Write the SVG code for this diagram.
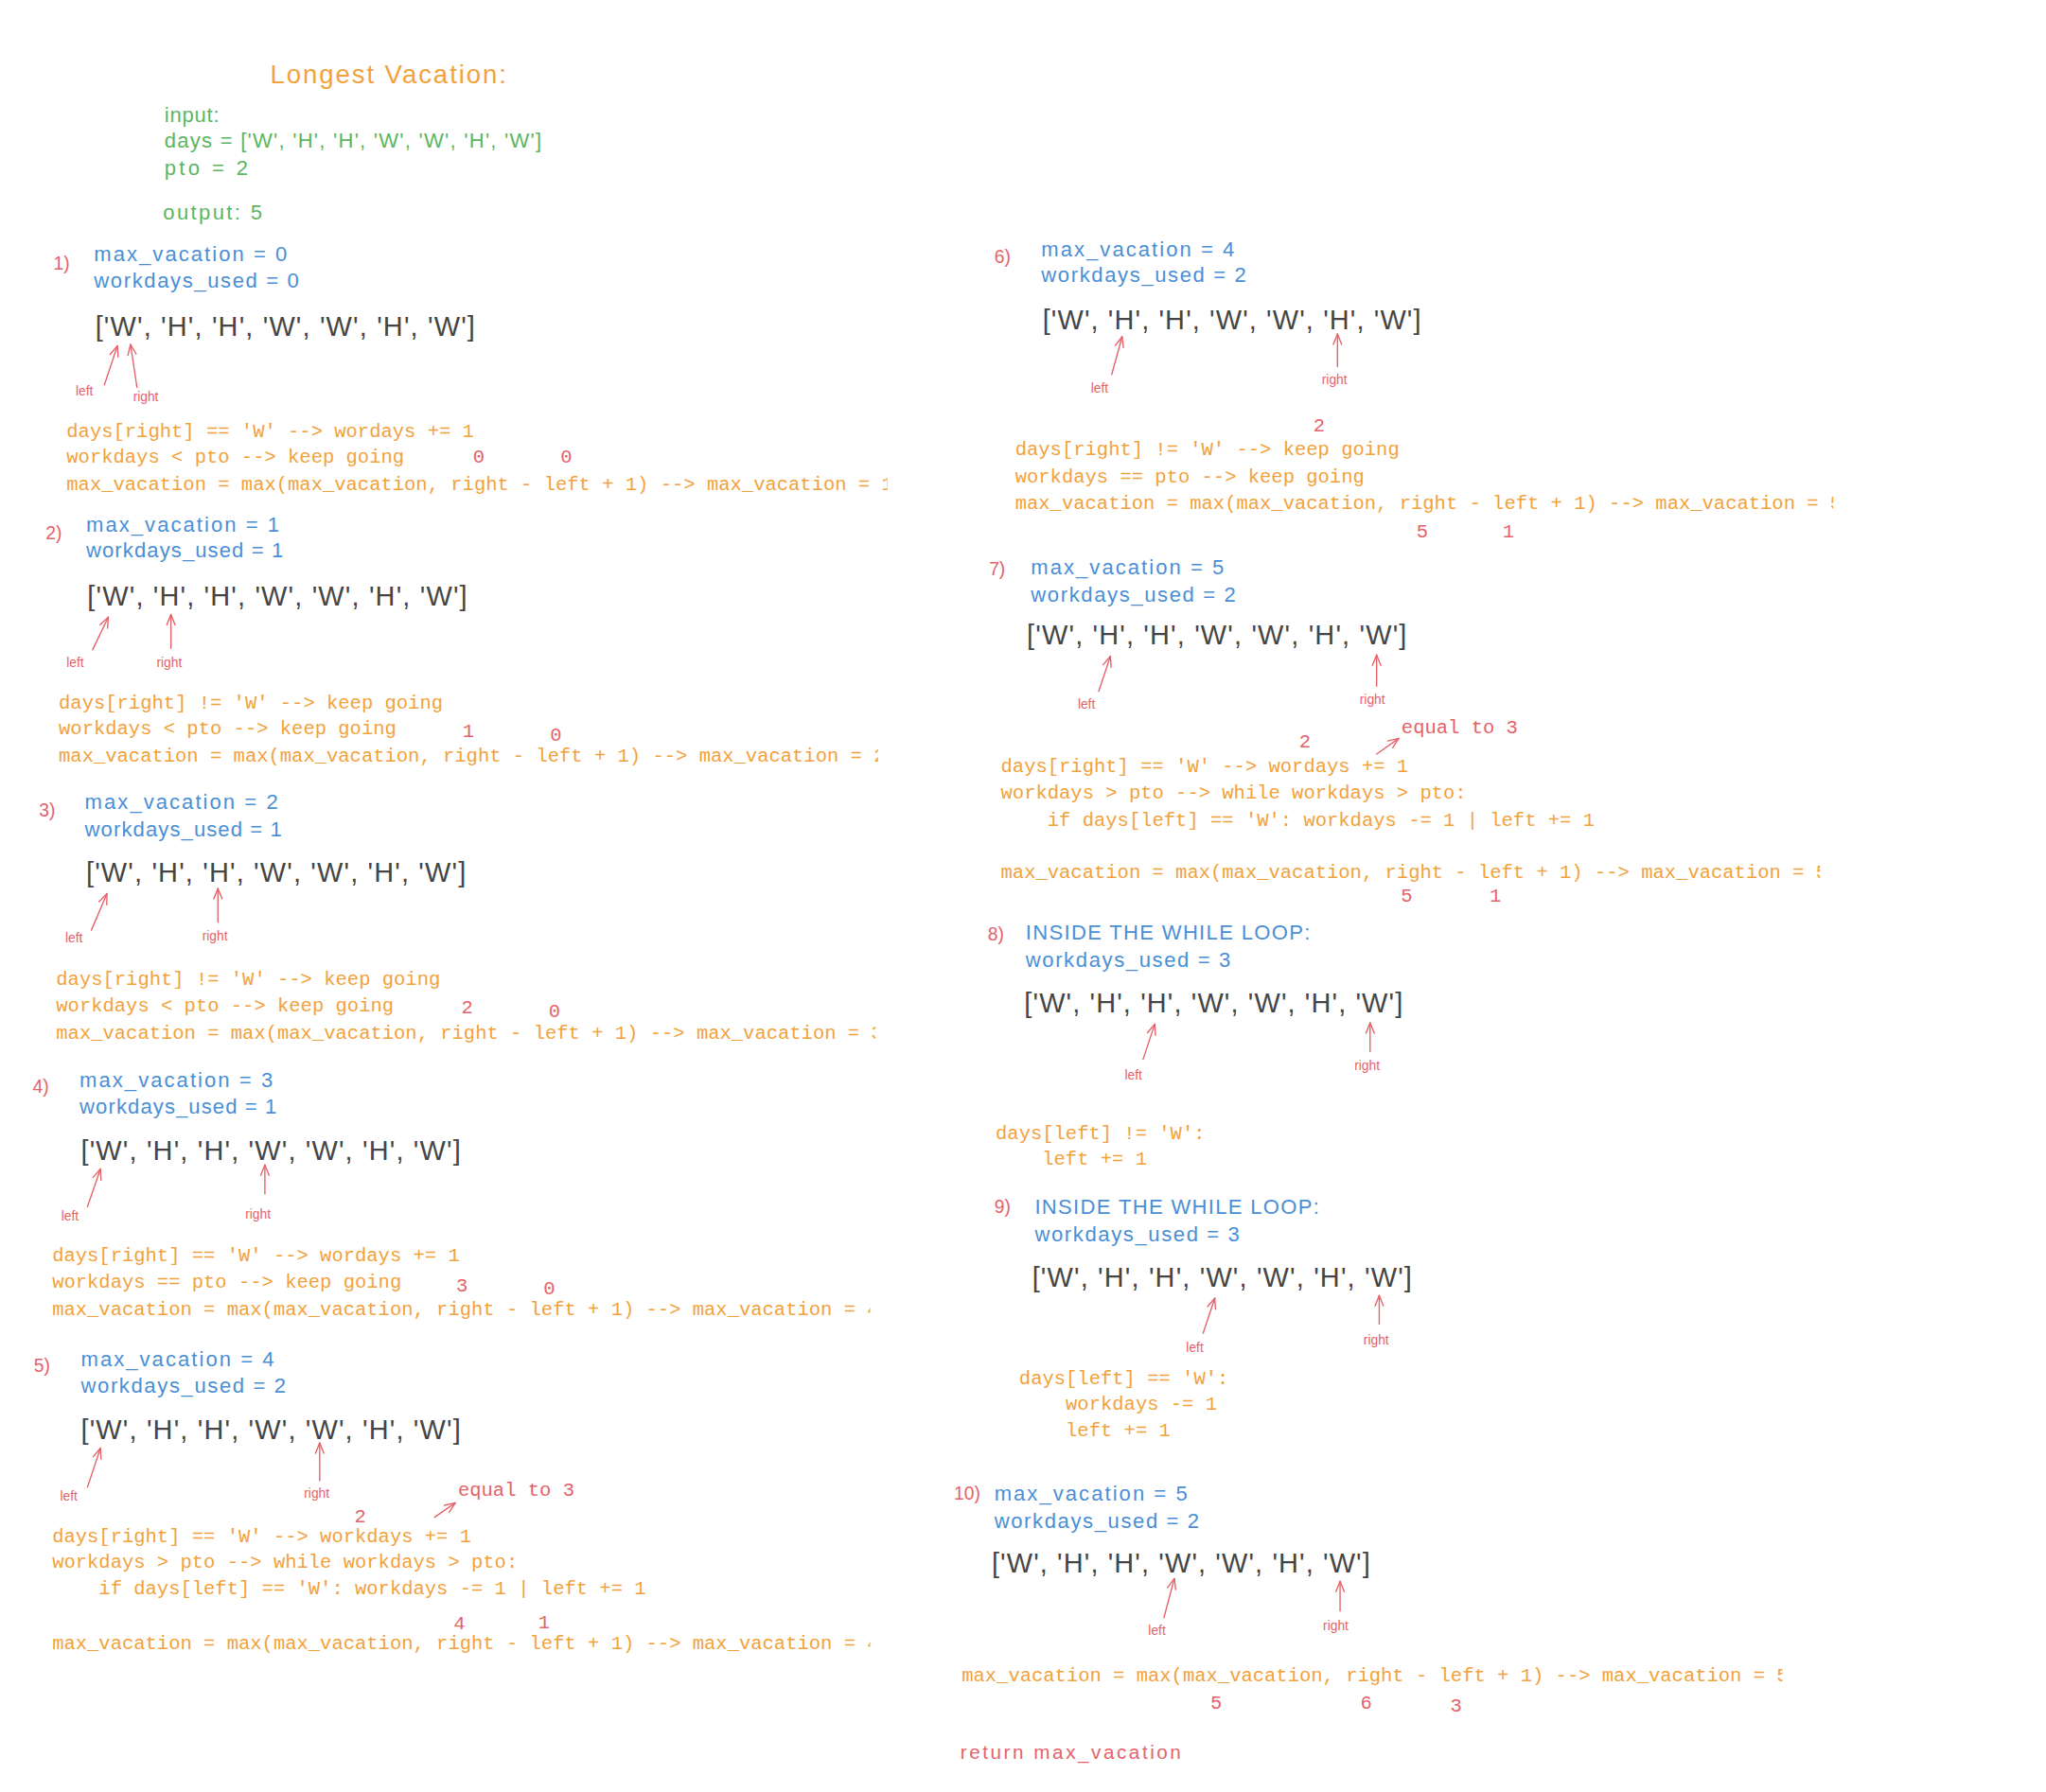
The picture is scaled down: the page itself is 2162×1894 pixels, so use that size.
<svg xmlns="http://www.w3.org/2000/svg" width="2162" height="1894" viewBox="0 0 2162 1894">
  <style>
    text { dominant-baseline: central; white-space: pre; }
    .title { font-family: "Liberation Sans", sans-serif; font-size: 20px; fill: #f2a23c; }
    .green { font-family: "Liberation Sans", sans-serif; font-size: 16px; fill: #5cb660; }
    .var { font-family: "Liberation Sans", sans-serif; font-size: 16px; fill: #4a8fd6; }
    .num { font-family: "Liberation Sans", sans-serif; font-size: 14px; fill: #e5626a; }
    .arr { font-family: "Liberation Sans", sans-serif; font-size: 21px; fill: #454545; }
    .ptr { font-family: "Liberation Sans", sans-serif; font-size: 10px; fill: #e5626a; }
    .code { font-family: "Liberation Mono", monospace; font-size: 14.87px; fill: #f2a23c; }
    .val { font-family: "Liberation Mono", monospace; font-size: 14.87px; fill: #e5626a; text-anchor: middle; }
    .note { font-family: "Liberation Mono", monospace; font-size: 14.87px; fill: #e5626a; }
    .ret { font-family: "Liberation Sans", sans-serif; font-size: 15px; fill: #e5626a; }
    .link { fill: none; stroke: #e5626a; stroke-width: 1; stroke-linecap: round; marker-end: url(#head); }
  </style>
  <defs>
    <marker id="head" markerUnits="userSpaceOnUse" viewBox="-10 -5 12 10" markerWidth="12" markerHeight="10" refX="0" refY="0" orient="auto" overflow="visible">
      <path d="M-8,-3.2 L0,0 L-8,3.2" fill="none" stroke="#e5626a" stroke-width="1" stroke-linecap="round" stroke-linejoin="round"/>
    </marker>
    <!-- text boxes that cut off the trailing result of the long formula lines -->
    <clipPath id="c1" clipPathUnits="userSpaceOnUse"><rect x="0" y="0" width="680" height="1374"/></clipPath>
    <clipPath id="c2" clipPathUnits="userSpaceOnUse"><rect x="0" y="0" width="673" height="1374"/></clipPath>
    <clipPath id="c3" clipPathUnits="userSpaceOnUse"><rect x="0" y="0" width="671" height="1374"/></clipPath>
    <clipPath id="c4" clipPathUnits="userSpaceOnUse"><rect x="0" y="0" width="667" height="1374"/></clipPath>
    <clipPath id="c6" clipPathUnits="userSpaceOnUse"><rect x="0" y="0" width="1405" height="1374"/></clipPath>
    <clipPath id="c7" clipPathUnits="userSpaceOnUse"><rect x="0" y="0" width="1395" height="1374"/></clipPath>
    <clipPath id="c10" clipPathUnits="userSpaceOnUse"><rect x="0" y="0" width="1366" height="1374"/></clipPath>
  </defs>

  <rect width="2162" height="1894" fill="#ffffff"/>

  <g transform="scale(1.37883)">
    <g id="header">
      <text class="title" x="207" y="57" textLength="181">Longest Vacation:</text>
      <text class="green" x="126" y="88" textLength="42">input:</text>
      <text class="green" x="126" y="108" textLength="289">days = ['W', 'H', 'H', 'W', 'W', 'H', 'W']</text>
      <text class="green" x="126" y="129" textLength="64">pto = 2</text>
      <text class="green" x="125" y="163" textLength="76">output: 5</text>
    </g>

    <g id="step1">
      <text class="num" x="41" y="202">1)</text>
      <text class="var" x="72" y="195" textLength="148">max_vacation = 0</text>
      <text class="var" x="72" y="215" textLength="157">workdays_used = 0</text>
      <text class="arr" x="73" y="250" textLength="291">['W', 'H', 'H', 'W', 'W', 'H', 'W']</text>
      <text class="ptr" x="58" y="300">left</text>
      <text class="ptr" x="102" y="304">right</text>
      <text class="code" x="51" y="331">days[right] == 'W' --&gt; wordays += 1</text>
      <text class="code" x="51" y="351">workdays &lt; pto --&gt; keep going</text>
      <text class="code" x="51" y="372" clip-path="url(#c1)">max_vacation = max(max_vacation, right - left + 1) --&gt; max_vacation = 1</text>
      <text class="val" x="367" y="351">0</text>
      <text class="val" x="434" y="351">0</text>
    </g>

    <g id="step2">
      <text class="num" x="35" y="409">2)</text>
      <text class="var" x="66" y="402" textLength="148">max_vacation = 1</text>
      <text class="var" x="66" y="422" textLength="151">workdays_used = 1</text>
      <text class="arr" x="67" y="457" textLength="291">['W', 'H', 'H', 'W', 'W', 'H', 'W']</text>
      <text class="ptr" x="51" y="508">left</text>
      <text class="ptr" x="120" y="508">right</text>
      <text class="code" x="45" y="539">days[right] != 'W' --&gt; keep going</text>
      <text class="code" x="45" y="559">workdays &lt; pto --&gt; keep going</text>
      <text class="code" x="45" y="580" clip-path="url(#c2)">max_vacation = max(max_vacation, right - left + 1) --&gt; max_vacation = 2</text>
      <text class="val" x="359" y="561">1</text>
      <text class="val" x="426" y="564">0</text>
    </g>

    <g id="step3">
      <text class="num" x="30" y="621">3)</text>
      <text class="var" x="65" y="615" textLength="148">max_vacation = 2</text>
      <text class="var" x="65" y="636" textLength="151">workdays_used = 1</text>
      <text class="arr" x="66" y="669" textLength="291">['W', 'H', 'H', 'W', 'W', 'H', 'W']</text>
      <text class="ptr" x="50" y="719">left</text>
      <text class="ptr" x="155" y="718">right</text>
      <text class="code" x="43" y="751">days[right] != 'W' --&gt; keep going</text>
      <text class="code" x="43" y="771">workdays &lt; pto --&gt; keep going</text>
      <text class="code" x="43" y="792" clip-path="url(#c3)">max_vacation = max(max_vacation, right - left + 1) --&gt; max_vacation = 3</text>
      <text class="val" x="358" y="773">2</text>
      <text class="val" x="425" y="776">0</text>
    </g>

    <g id="step4">
      <text class="num" x="25" y="833">4)</text>
      <text class="var" x="61" y="828" textLength="148">max_vacation = 3</text>
      <text class="var" x="61" y="848" textLength="151">workdays_used = 1</text>
      <text class="arr" x="62" y="882" textLength="291">['W', 'H', 'H', 'W', 'W', 'H', 'W']</text>
      <text class="ptr" x="47" y="932">left</text>
      <text class="ptr" x="188" y="931">right</text>
      <text class="code" x="40" y="963">days[right] == 'W' --&gt; wordays += 1</text>
      <text class="code" x="40" y="983">workdays == pto --&gt; keep going</text>
      <text class="code" x="40" y="1004" clip-path="url(#c4)">max_vacation = max(max_vacation, right - left + 1) --&gt; max_vacation = 4</text>
      <text class="val" x="354" y="986">3</text>
      <text class="val" x="421" y="988">0</text>
    </g>

    <g id="step5">
      <text class="num" x="26" y="1047">5)</text>
      <text class="var" x="62" y="1042" textLength="148">max_vacation = 4</text>
      <text class="var" x="62" y="1062" textLength="157">workdays_used = 2</text>
      <text class="arr" x="62" y="1096" textLength="291">['W', 'H', 'H', 'W', 'W', 'H', 'W']</text>
      <text class="ptr" x="46" y="1147">left</text>
      <text class="ptr" x="233" y="1145">right</text>
      <text class="note" x="351" y="1143">equal to 3</text>
      <text class="val" x="276" y="1163">2</text>
      <text class="code" x="40" y="1178">days[right] == 'W' --&gt; workdays += 1</text>
      <text class="code" x="40" y="1198">workdays &gt; pto --&gt; while workdays &gt; pto:</text>
      <text class="code" x="40" y="1218">    if days[left] == 'W': workdays -= 1 | left += 1</text>
      <text class="code" x="40" y="1260" clip-path="url(#c4)">max_vacation = max(max_vacation, right - left + 1) --&gt; max_vacation = 4</text>
      <text class="val" x="352" y="1245">4</text>
      <text class="val" x="417" y="1244">1</text>
    </g>

    <g id="step6">
      <text class="num" x="762" y="197">6)</text>
      <text class="var" x="798" y="191" textLength="148">max_vacation = 4</text>
      <text class="var" x="798" y="211" textLength="157">workdays_used = 2</text>
      <text class="arr" x="799" y="245" textLength="290">['W', 'H', 'H', 'W', 'W', 'H', 'W']</text>
      <text class="ptr" x="836" y="298">left</text>
      <text class="ptr" x="1013" y="291">right</text>
      <text class="val" x="1011" y="327">2</text>
      <text class="code" x="778" y="345">days[right] != 'W' --&gt; keep going</text>
      <text class="code" x="778" y="366">workdays == pto --&gt; keep going</text>
      <text class="code" x="778" y="386" clip-path="url(#c6)">max_vacation = max(max_vacation, right - left + 1) --&gt; max_vacation = 5</text>
      <text class="val" x="1090" y="408">5</text>
      <text class="val" x="1156" y="408">1</text>
    </g>

    <g id="step7">
      <text class="num" x="758" y="436">7)</text>
      <text class="var" x="790" y="435" textLength="148">max_vacation = 5</text>
      <text class="var" x="790" y="456" textLength="157">workdays_used = 2</text>
      <text class="arr" x="787" y="487" textLength="291">['W', 'H', 'H', 'W', 'W', 'H', 'W']</text>
      <text class="ptr" x="826" y="540">left</text>
      <text class="ptr" x="1042" y="536">right</text>
      <text class="note" x="1074" y="558">equal to 3</text>
      <text class="val" x="1000" y="569">2</text>
      <text class="code" x="767" y="588">days[right] == 'W' --&gt; wordays += 1</text>
      <text class="code" x="767" y="608">workdays &gt; pto --&gt; while workdays &gt; pto:</text>
      <text class="code" x="767" y="629">    if days[left] == 'W': workdays -= 1 | left += 1</text>
      <text class="code" x="767" y="669" clip-path="url(#c7)">max_vacation = max(max_vacation, right - left + 1) --&gt; max_vacation = 5</text>
      <text class="val" x="1078" y="687">5</text>
      <text class="val" x="1146" y="687">1</text>
    </g>

    <g id="step8">
      <text class="num" x="757" y="716">8)</text>
      <text class="var" x="786" y="715" textLength="218">INSIDE THE WHILE LOOP:</text>
      <text class="var" x="786" y="736" textLength="157">workdays_used = 3</text>
      <text class="arr" x="785" y="769" textLength="290">['W', 'H', 'H', 'W', 'W', 'H', 'W']</text>
      <text class="ptr" x="862" y="824">left</text>
      <text class="ptr" x="1038" y="817">right</text>
      <text class="code" x="763" y="869">days[left] != 'W':</text>
      <text class="code" x="763" y="889">    left += 1</text>
    </g>

    <g id="step9">
      <text class="num" x="762" y="925">9)</text>
      <text class="var" x="793" y="925" textLength="218">INSIDE THE WHILE LOOP:</text>
      <text class="var" x="793" y="946" textLength="157">workdays_used = 3</text>
      <text class="arr" x="791" y="979" textLength="291">['W', 'H', 'H', 'W', 'W', 'H', 'W']</text>
      <text class="ptr" x="909" y="1033">left</text>
      <text class="ptr" x="1045" y="1027">right</text>
      <text class="code" x="781" y="1057">days[left] == 'W':</text>
      <text class="code" x="781" y="1077">    workdays -= 1</text>
      <text class="code" x="781" y="1097">    left += 1</text>
    </g>

    <g id="step10">
      <text class="num" x="731" y="1145">10)</text>
      <text class="var" x="762" y="1145" textLength="148">max_vacation = 5</text>
      <text class="var" x="762" y="1166" textLength="157">workdays_used = 2</text>
      <text class="arr" x="760" y="1198" textLength="290">['W', 'H', 'H', 'W', 'W', 'H', 'W']</text>
      <text class="ptr" x="880" y="1250">left</text>
      <text class="ptr" x="1014" y="1246">right</text>
      <text class="code" x="737" y="1285" clip-path="url(#c10)">max_vacation = max(max_vacation, right - left + 1) --&gt; max_vacation = 5</text>
      <text class="val" x="932" y="1306">5</text>
      <text class="val" x="1047" y="1306">6</text>
      <text class="val" x="1116" y="1308">3</text>
      <text class="ret" x="736" y="1343" textLength="169">return max_vacation</text>
    </g>

    <!-- pointer arrows: tail at the label, head at the array element -->
    <g id="connectors">
      <path class="link" d="M80,295 L90,265"/>
      <path class="link" d="M105,297 L100,264"/>
      <path class="link" d="M71,498 L83,473"/>
      <path class="link" d="M131,497 L131,471"/>
      <path class="link" d="M70,713 L82,685"/>
      <path class="link" d="M167,707 L167,681"/>
      <path class="link" d="M67,925 L77,896"/>
      <path class="link" d="M203,915 L203,893"/>
      <path class="link" d="M67,1140 L77,1110"/>
      <path class="link" d="M245,1135 L245,1106"/>
      <path class="link" d="M333,1163 L349,1152"/>
      <path class="link" d="M852,287 L860,258"/>
      <path class="link" d="M1025,281 L1025,256"/>
      <path class="link" d="M842,530 L851,503"/>
      <path class="link" d="M1055,526 L1055,502"/>
      <path class="link" d="M1055,578 L1072,566"/>
      <path class="link" d="M876,812 L885,785"/>
      <path class="link" d="M1050,806 L1050,784"/>
      <path class="link" d="M922,1022 L931,995"/>
      <path class="link" d="M1057,1015 L1057,993"/>
      <path class="link" d="M892,1240 L900,1210"/>
      <path class="link" d="M1027,1235 L1027,1212"/>
    </g>
  </g>
</svg>
